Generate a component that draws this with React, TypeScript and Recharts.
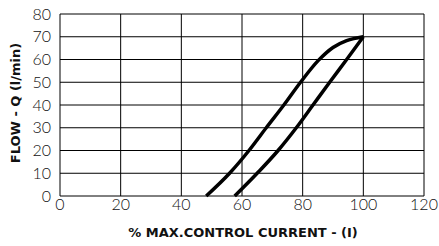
import { CartesianGrid, Label, Line, LineChart, XAxis, YAxis } from "recharts";

// current (%) vs flow (l/min), rising branch (left curve)
const upperCurrent = [48.2, 55.9, 62.3, 68, 73.8, 79.3, 85.1, 90, 94.5, 100];
const upperFlow = [0, 10, 20, 30, 40, 50, 59.5, 65.3, 68.3, 70];

// falling branch (right curve)
const lowerCurrent = [57.6, 65, 71.9, 77.9, 83.4, 88.9, 94.5, 100];
const lowerFlow = [0, 10, 20, 30, 40, 50, 60, 70];

const xTicks = [0, 20, 40, 60, 80, 100, 120];
const yTicks = [0, 10, 20, 30, 40, 50, 60, 70, 80];

const upper = upperCurrent.map((x, i) => ({ x, y: upperFlow[i] }));
const lower = lowerCurrent.map((x, i) => ({ x, y: lowerFlow[i] }));

const tickStyle = { fontFamily: "Lato", fontSize: 16, fontWeight: 300, fill: "#111" };
const titleFont = "'DejaVu Sans', sans-serif";

export default function App() {
  return (
    <div style={{ position: "absolute", left: 0, top: 0, width: 439, height: 246, background: "#fff" }}>
      <LineChart width={439} height={246} margin={{ top: 14, right: 15, bottom: 0, left: 20 }}>
        <CartesianGrid stroke="#000" strokeWidth={1} />
        <XAxis
          type="number"
          dataKey="x"
          domain={[0, 120]}
          ticks={xTicks}
          interval={0}
          axisLine={false}
          tickLine={false}
          tickSize={0}
          tickMargin={3}
          height={50}
          tick={tickStyle}
          allowDuplicatedCategory={false}
        >
          <Label
            content={() => (
              <text
                x={243}
                y={237}
                textAnchor="middle"
                style={{ fontFamily: titleFont, fontWeight: "bold", fontSize: 13, fill: "#111" }}
              >
                % MAX.CONTROL CURRENT - (I)
              </text>
            )}
          />
        </XAxis>
        <YAxis
          type="number"
          dataKey="y"
          domain={[0, 80]}
          ticks={yTicks}
          interval={0}
          axisLine={false}
          tickLine={false}
          tickSize={0}
          tickMargin={9}
          width={40}
          tick={tickStyle}
        >
          <Label
            content={() => (
              <text
                x={0}
                y={0}
                transform="translate(20,103) rotate(-90)"
                textAnchor="middle"
                style={{ fontFamily: titleFont, fontWeight: "bold", fontSize: 13, fill: "#111" }}
              >
                FLOW - Q (l/min)
              </text>
            )}
          />
        </YAxis>
        <Line
          data={upper}
          dataKey="y"
          type="monotone"
          stroke="#000"
          strokeWidth={3.5}
          dot={false}
          isAnimationActive={false}
        />
        <Line
          data={lower}
          dataKey="y"
          type="monotone"
          stroke="#000"
          strokeWidth={3.5}
          dot={false}
          isAnimationActive={false}
        />
      </LineChart>
    </div>
  );
}
